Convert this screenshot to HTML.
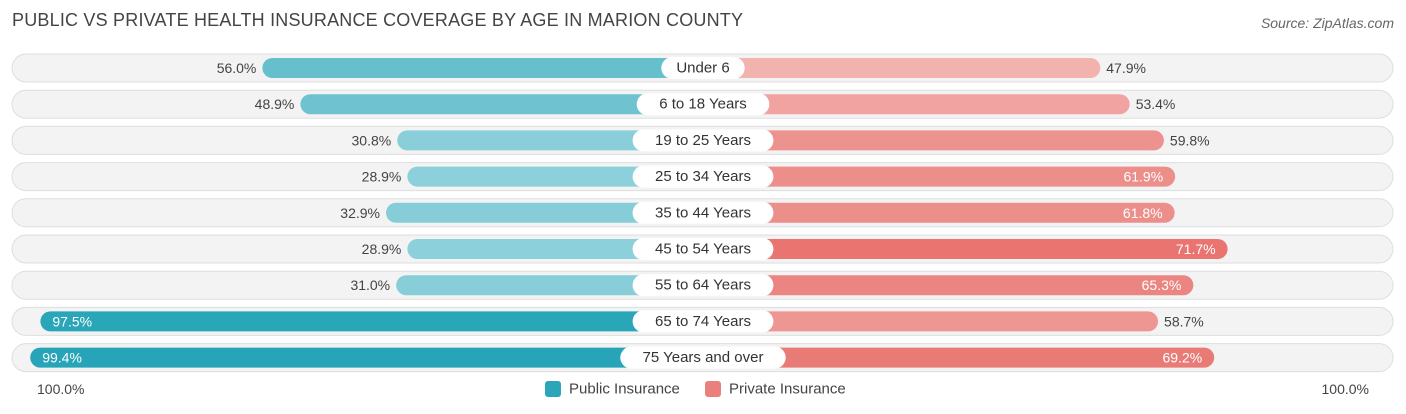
<!DOCTYPE html>
<html><head><meta charset="utf-8"><style>
body{margin:0;width:1406px;height:414px;background:#fff;font-family:"Liberation Sans",sans-serif;overflow:hidden;position:relative}
#title{position:absolute;left:12px;top:10px;font-size:18px;color:#444;letter-spacing:0.2px}
#source{position:absolute;right:12px;top:15px;font-size:14px;color:#666;font-style:italic}
svg{position:absolute;left:0;top:0}
</style></head><body>
<div id="title">PUBLIC VS PRIVATE HEALTH INSURANCE COVERAGE BY AGE IN MARION COUNTY</div>
<div id="source">Source: ZipAtlas.com</div>
<svg id="chart" width="1406" height="414"></svg>
<script>
const categories=["Under 6","6 to 18 Years","19 to 25 Years","25 to 34 Years","35 to 44 Years","45 to 54 Years","55 to 64 Years","65 to 74 Years","75 Years and over"];
const publicValues=[56.0,48.9,30.8,28.9,32.9,28.9,31.0,97.5,99.4];
const privateValues=[47.9,53.4,59.8,61.9,61.8,71.7,65.3,58.7,69.2];
const axisLabels=["100.0%","100.0%"];
const NS="http://www.w3.org/2000/svg";
const svg=document.getElementById('chart');
const cx=703,row0=68,rowStep=36.2;
function w(v){return 141+5.35*v;}
function yPos(i){return row0+i*rowStep;}
function mix(a,b,t){t=Math.max(0,Math.min(1,t));return 'rgb('+a.map((x,k)=>Math.round(x+(b[k]-x)*t)).join(',')+')';}
function pubColor(v){return mix([145,210,220],[38,164,184],(v-25)/75);}
function privColor(v){return mix([243,185,182],[232,113,109],(v-45)/28);}
function el(tag,attrs){const e=document.createElementNS(NS,tag);for(const k in attrs)e.setAttribute(k,attrs[k]);svg.appendChild(e);return e;}
function txt(x,y,s,anchor,fill,size){const t=el('text',{x:x,y:y,'text-anchor':anchor,fill:fill,'font-size':size||14,'font-family':'Liberation Sans, sans-serif','dominant-baseline':'central'});t.textContent=s;return t;}
categories.forEach((c,i)=>{
  const y=yPos(i);
  const bg=el('rect',{x:12,y:y-14,width:1381,height:28,rx:14,fill:'#f3f3f3',stroke:'#dedede','stroke-width':1});
  
  
  const pv=publicValues[i],qv=privateValues[i];
  const pw=w(pv);
  const pb=el('rect',{x:cx-pw,y:y-10,width:pw,height:20,rx:10,fill:pubColor(pv)});
  
  
  const qw=w(qv);
  const qb=el('rect',{x:cx,y:y-10,width:qw,height:20,rx:10,fill:privColor(qv)});
  
  
  let lt;
  if(pv>=60){lt=txt(cx-pw+12,y,pv.toFixed(1)+'%','start','#fff');}
  else{lt=txt(cx-pw-6,y,pv.toFixed(1)+'%','end','#444');}
  
  
  let rt;
  if(qv>=60){rt=txt(cx+qw-12,y,qv.toFixed(1)+'%','end','#fff');}
  else{rt=txt(cx+qw+6,y,qv.toFixed(1)+'%','start','#444');}
  
  
  const lw=c.length*8.2+26;
  const pill=el('rect',{x:cx-lw/2,y:y-11,width:lw,height:22,rx:11,fill:'#fff'});
  
  
  const ct=txt(cx,y,c,'middle','#333',15);
  
  
});
const a1=txt(37,389,axisLabels[0],'start','#444');


const a2=txt(1369,389,axisLabels[1],'end','#444');


const s1=el('rect',{x:545,y:381,width:16,height:16,rx:3,fill:'#2ba5b8'});


const l1=txt(569,389,'Public Insurance','start','#444',15);


const s2=el('rect',{x:705,y:381,width:16,height:16,rx:3,fill:'#e9807c'});


const l2=txt(729,389,'Private Insurance','start','#444',15);


</script>
</body></html>
